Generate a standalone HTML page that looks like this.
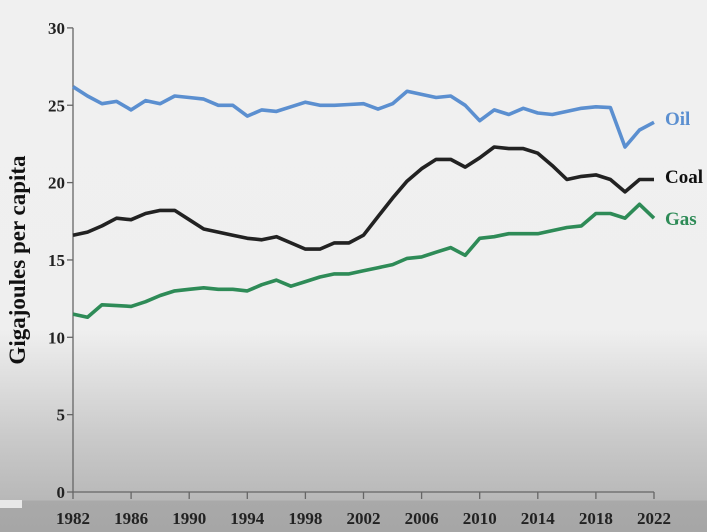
<!DOCTYPE html>
<html><head><meta charset="utf-8"><style>
html,body{margin:0;padding:0}
body{width:707px;height:532px;overflow:hidden;background:linear-gradient(to bottom,#f0f0f0 0px,#efefef 330px,#c9c9c9 440px,#b8b8b8 500px,#a9a9a9 501px,#a6a6a6 532px);}
svg{position:absolute;left:0;top:0}
text{font-family:"Liberation Serif",serif;font-weight:bold}
</style></head><body>
<svg id="s" width="707" height="532" xmlns="http://www.w3.org/2000/svg">
<rect x="0" y="500" width="22" height="8" fill="#e8e8e8"/>
<g id="ax" stroke="#666" stroke-width="1.3" fill="none"></g>
<g id="lab" font-size="17" fill="#222"></g>
<text transform="translate(25,260) rotate(-90)" text-anchor="middle" font-size="23" fill="#111">Gigajoules per capita</text>
<g id="lines" fill="none" stroke-width="3.6" stroke-linejoin="round"></g>
<text x="665" y="125" font-size="19" fill="#5b8fd0" font-weight="normal">Oil</text>
<text x="665" y="183" font-size="19" fill="#111">Coal</text>
<text x="665" y="225" font-size="19" fill="#2e8b57">Gas</text>
</svg>
<script>
var X0=73,Y0=492,XS=14.525,YS=15.47;
function px(i){return X0+i*XS} function py(v){return Y0-v*YS}
var ax=document.getElementById('ax'),lab=document.getElementById('lab'),ns='http://www.w3.org/2000/svg';
function el(t,a,p){var e=document.createElementNS(ns,t);for(var k in a)e.setAttribute(k,a[k]);p.appendChild(e);return e}
el('path',{d:'M'+X0+' '+py(30)+'V'+Y0+'H'+px(40)},ax);
for(var v=0;v<=30;v+=5){el('path',{d:'M'+(X0-6)+' '+py(v)+'H'+X0},ax);var t=el('text',{x:X0-8,y:py(v)+6,'text-anchor':'end'},lab);t.textContent=v;}
for(var y=0;y<=40;y+=4){el('path',{d:'M'+px(y)+' '+Y0+'v7'},ax);var t=el('text',{x:px(y),y:524,'text-anchor':'middle'},lab);t.textContent=1982+y;}
var oil=[26.2,25.6,25.1,25.25,24.7,25.3,25.1,25.6,25.5,25.4,25.0,25.0,24.3,24.7,24.6,24.9,25.2,25.0,25.0,25.05,25.1,24.75,25.1,25.9,25.7,25.5,25.6,25.0,24.0,24.7,24.4,24.8,24.5,24.4,24.6,24.8,24.9,24.85,22.3,23.4,23.9];
var coal=[16.6,16.8,17.2,17.7,17.6,18.0,18.2,18.2,17.6,17.0,16.8,16.6,16.4,16.3,16.5,16.1,15.7,15.7,16.1,16.1,16.6,17.8,19.0,20.1,20.9,21.5,21.5,21.0,21.6,22.3,22.2,22.2,21.9,21.1,20.2,20.4,20.5,20.2,19.4,20.2,20.2];
var gas=[11.5,11.3,12.1,12.05,12.0,12.3,12.7,13.0,13.1,13.2,13.1,13.1,13.0,13.4,13.7,13.3,13.6,13.9,14.1,14.1,14.3,14.5,14.7,15.1,15.2,15.5,15.8,15.3,16.4,16.5,16.7,16.7,16.7,16.9,17.1,17.2,18.0,18.0,17.7,18.6,17.7];
var L=document.getElementById('lines');
[[oil,'#5b8fd0'],[coal,'#222'],[gas,'#2e8b57']].forEach(function(s){var d='';s[0].forEach(function(v,i){d+=(i?'L':'M')+px(i*40/(s[0].length-1)).toFixed(1)+' '+py(v).toFixed(1)});el('path',{d:d,stroke:s[1]},L);});
</script>
</body></html>
